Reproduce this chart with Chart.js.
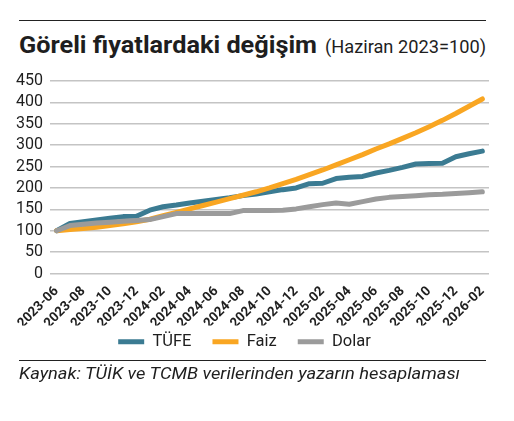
<!DOCTYPE html>
<html>
<head>
<meta charset="utf-8">
<script src="https://cdn.jsdelivr.net/npm/chart.js@4.4.0/dist/chart.umd.min.js"></script>
<style>
  html, body { margin: 0; padding: 0; background: #fff; }
  body {
    width: 514px; height: 421px; position: relative; overflow: hidden;
    font-family: Roboto, "Liberation Sans", sans-serif;
    color: #1e1e1e;
  }
  .rule { position: absolute; left: 19px; width: 467px; height: 0; border-top: 1.5px solid #222; }
  .metin { position: absolute; white-space: nowrap; display: inline-block; transform-origin: 0 0; }
  #baslik { left: 19px; top: 33px; font-size: 24px; line-height: 24px; font-weight: bold; }
  #not { left: 325px; top: 37px; font-size: 19px; line-height: 19px; }
  #kaynak { left: 19px; top: 365px; font-size: 17px; line-height: 17px; font-style: italic; }
  #wrap { position: absolute; left: 0; top: 0; width: 514px; height: 421px; }
</style>
</head>
<body>
<div class="rule" style="top:20px"></div>
<span class="metin" id="baslik">Göreli fiyatlardaki değişim</span>
<span class="metin" id="not">(Haziran 2023=100)</span>
<div id="wrap"><canvas id="grafik" width="514" height="421"></canvas></div>
<div class="rule" style="top:360px"></div>
<span class="metin" id="kaynak">Kaynak: TÜİK ve TCMB verilerinden yazarın hesaplaması</span>

<script>
// Aylar: 2023-06 ... 2026-02
var aylar = [
  "2023-06", "2023-07", "2023-08", "2023-09", "2023-10", "2023-11", "2023-12",
  "2024-01", "2024-02", "2024-03", "2024-04", "2024-05", "2024-06", "2024-07",
  "2024-08", "2024-09", "2024-10", "2024-11", "2024-12",
  "2025-01", "2025-02", "2025-03", "2025-04", "2025-05", "2025-06", "2025-07",
  "2025-08", "2025-09", "2025-10", "2025-11", "2025-12",
  "2026-01", "2026-02"
];

// Eksende gosterilen etiketler (iki ayda bir)
var eksenEtiketleri = [
  "2023-06", "2023-08", "2023-10", "2023-12", "2024-02", "2024-04", "2024-06",
  "2024-08", "2024-10", "2024-12", "2025-02", "2025-04", "2025-06", "2025-08",
  "2025-10", "2025-12", "2026-02"
];

// Haziran 2023 = 100
var tufe = [100, 117, 121, 125, 129, 133, 134, 148, 156, 160, 165, 169, 173, 177, 182, 186, 191,
            196, 200, 210, 211, 222, 225, 227, 235, 241, 248, 256, 257, 258, 273, 280, 286];
var faiz = [100, 103, 105, 108, 112, 116, 121, 127, 135, 143, 151, 159, 167, 175, 183, 191, 200,
            210, 220, 231, 242, 254, 266, 278, 291, 303, 316, 329, 343, 358, 374, 391, 408];
var dolar = [100, 112, 115, 118, 120, 122, 124, 126, 133, 140, 140, 140, 140, 140, 147, 147, 147,
             148, 151, 156, 161, 165, 162, 168, 174, 178, 180, 182, 184, 185, 187, 189, 191];

var yaziRengi = "#1e1e1e";
var yazi = "Roboto, 'Liberation Sans', sans-serif";

// basliklari referanstaki genislige sikistir
function genislik(id, w) {
  var el = document.getElementById(id);
  var r = el.getBoundingClientRect().width;
  el.style.transform = "scaleX(" + (w / r) + ")";
}
genislik("baslik", 298);
genislik("not", 161);
genislik("kaynak", 441);

function seri(label, data, renk, sira) {
  return {
    label: label,
    data: data,
    borderColor: renk,
    backgroundColor: renk,
    borderWidth: 5,
    borderJoinStyle: "round",
    borderCapStyle: "round",
    pointRadius: 0,
    tension: 0,
    order: sira
  };
}

// lejandi x etiketlerine biraz yaklastir
var lejantKaydir = {
  id: "lejantKaydir",
  afterLayout: function (chart) {
    chart.legend.top -= 13;
    chart.legend.bottom -= 13;
  }
};

new Chart(document.getElementById("grafik"), {
  type: "line",
  data: {
    labels: aylar,
    datasets: [
      seri("TÜFE", tufe, "#3b7b92", 3),
      seri("Faiz", faiz, "#f9a622", 2),
      seri("Dolar", dolar, "#9b9b9b", 1)
    ]
  },
  plugins: [lejantKaydir],
  options: {
    responsive: false,
    animation: false,
    layout: { padding: { top: 81, right: 25, bottom: 48, left: 0 } },
    plugins: {
      tooltip: { enabled: false },
      legend: {
        position: "bottom",
        labels: {
          usePointStyle: true,
          pointStyle: "line",
          pointStyleWidth: 26,
          padding: 21,
          color: yaziRengi,
          font: { family: yazi, size: 16.5 },
          sort: function (a, b) { return a.datasetIndex - b.datasetIndex; }
        }
      }
    },
    scales: {
      x: {
        offset: true,
        grid: { display: false },
        border: { display: false },
        afterFit: function (s) { s.height = 52; },
        ticks: {
          autoSkip: false,
          maxRotation: 45,
          minRotation: 45,
          padding: 2,
          color: yaziRengi,
          font: { family: yazi, size: 13.5, weight: "bold" },
          callback: function (v) {
            var e = this.getLabelForValue(v);
            return eksenEtiketleri.indexOf(e) >= 0 ? e : "";
          }
        }
      },
      y: {
        min: 0,
        max: 450,
        afterFit: function (s) { s.width = 50; },
        grid: { color: "#c4c4c4", lineWidth: 1.5, drawTicks: false },
        border: { display: false },
        ticks: {
          stepSize: 50,
          autoSkip: false,
          padding: 7,
          color: yaziRengi,
          font: { family: yazi, size: 16 }
        }
      }
    }
  }
});
</script>
</body>
</html>
